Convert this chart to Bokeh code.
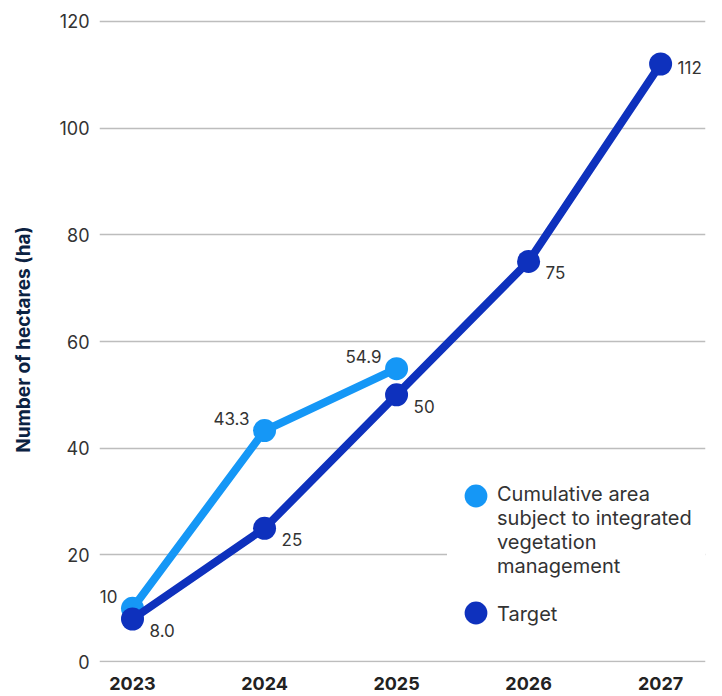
from bokeh.plotting import figure
from bokeh.models import ColumnDataSource, Range1d, Legend, LegendItem, FixedTicker
from bokeh.core.properties import value
from bokeh.embed import file_html
from bokeh.resources import INLINE

years = [2023, 2024, 2025, 2026, 2027]
actual_years = [2023, 2024, 2025]
actual_values = [10, 43.3, 54.9]
actual_labels = ["10", "43.3", "54.9"]
target_values = [8.0, 25, 50, 75, 112]
target_labels = ["8.0", "25", "50", "75", "112"]
y_ticks = [0, 20, 40, 60, 80, 100, 120]
legend_labels = ["Cumulative area\nsubject to integrated\nvegetation\nmanagement", "Target"]

LIGHT = "#1597f6"
DARK = "#0e31bd"
FONT = "Inter"

p = figure(width=722, height=696, output_backend="svg", toolbar_location=None,
           x_range=Range1d(2022.75, 2027.34), y_range=Range1d(-0.15, 120.9),
           min_border_left=99, min_border_right=17, min_border_top=16, min_border_bottom=34)
p.outline_line_color = None
p.background_fill_color = "white"
p.border_fill_color = "white"

# axes
p.xaxis.ticker = FixedTicker(ticks=years)
p.yaxis.ticker = FixedTicker(ticks=y_ticks)
for ax in (p.xaxis[0], p.yaxis[0]):
    ax.axis_line_color = None
    ax.major_tick_line_color = None
    ax.minor_tick_line_color = None
    ax.major_tick_out = 0
    ax.major_tick_in = 0
    ax.major_label_text_font = FONT
p.xaxis.major_label_text_font_size = "18px"
p.xaxis.major_label_text_font_style = "bold"
p.xaxis.major_label_text_color = "#222222"
p.xaxis.major_label_standoff = 14
p.yaxis.major_label_text_font_size = "18px"
p.yaxis.major_label_text_color = "#333333"
p.yaxis.major_label_standoff = 10
p.yaxis.axis_label = "Number of hectares (ha)"
p.yaxis.axis_label_text_font = FONT
p.yaxis.axis_label_text_font_size = "19px"
p.yaxis.axis_label_text_font_style = "bold"
p.yaxis.axis_label_text_color = "#0b2242"
p.yaxis.axis_label_standoff = 21

p.xgrid.grid_line_color = None
p.ygrid.grid_line_color = "#bdbdbd"
p.ygrid.grid_line_width = 1.3

src_a = ColumnDataSource(dict(x=actual_years, y=actual_values, label=actual_labels))
src_t = ColumnDataSource(dict(x=years, y=target_values, label=target_labels,
                              yo=[11, 11, 12, 11, 4]))

p.line("x", "y", source=src_a, line_color=LIGHT, line_width=8)
r_a = p.scatter("x", "y", source=src_a, size=23, fill_color=LIGHT, line_color=None)
p.line("x", "y", source=src_t, line_color=DARK, line_width=8)
r_t = p.scatter("x", "y", source=src_t, size=23, fill_color=DARK, line_color=None)

p.text("x", "y", text="label", source=src_a, x_offset=-15, y_offset=-12,
       text_align="right", text_baseline="middle", text_font=value(FONT),
       text_font_size="17px", text_color="#333333")
p.text("x", "y", text="label", source=src_t, x_offset=17, y_offset="yo",
       text_align="left", text_baseline="middle", text_font=value(FONT),
       text_font_size="17px", text_color="#333333")

# invisible renderer that carries the text-only legend entries
r_blank = p.scatter(x=[], y=[], size=1, fill_alpha=0, line_alpha=0)

# legend: markers (first legend) and wrapped labels (second legend)
leg_marks = Legend(items=[LegendItem(label=" ", renderers=[r_a]),
                          LegendItem(label=" ", renderers=[r_t])],
                   location=(348, 21))
leg_marks.glyph_width = 57
leg_marks.glyph_height = 57
leg_marks.spacing = 60
leg_marks.label_standoff = 0
leg_marks.padding = 0
leg_marks.margin = 0
leg_marks.border_line_color = None
leg_marks.background_fill_color = "white"
leg_marks.background_fill_alpha = 1
leg_marks.label_text_font_size = "10px"
p.add_layout(leg_marks)

leg_text = Legend(items=[LegendItem(label=legend_labels[0], renderers=[r_blank]),
                         LegendItem(label=legend_labels[1], renderers=[r_blank])],
                  location=(397, 36))
leg_text.glyph_width = 1
leg_text.glyph_height = 1
leg_text.spacing = 24
leg_text.label_standoff = 0
leg_text.label_height = 1
leg_text.label_width = 215
leg_text.padding = 0
leg_text.margin = 0
leg_text.border_line_color = None
leg_text.background_fill_color = "white"
leg_text.background_fill_alpha = 1
leg_text.label_text_font = FONT
leg_text.label_text_font_size = "20px"
leg_text.label_text_color = "#333333"
leg_text.label_text_line_height = 1.13
p.add_layout(leg_text)

open("out.html", "w").write(file_html(p, INLINE))
